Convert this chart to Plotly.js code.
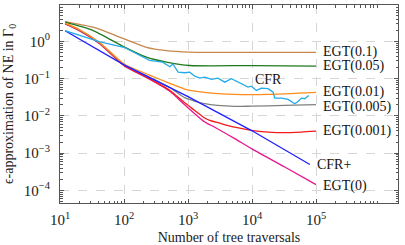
<!DOCTYPE html>
<html>
<head>
<meta charset="utf-8">
<script src="https://cdn.plot.ly/plotly-3.0.1.min.js"></script>
<style>html,body{margin:0;padding:0;background:#fff;}#chart{width:405px;height:245px;}</style>
</head>
<body>
<div id="chart"></div>
<script>
// ---- data ----
const egt01_x = [12, 33, 100, 224, 460, 1063, 3000, 100000];
const egt01_y = [3.44, 2.42, 1.18, 0.70, 0.57, 0.52, 0.51, 0.51];

const egt005_x = [12, 33, 100, 224, 460, 1063, 10000, 100000];
const egt005_y = [3.29, 1.97, 0.72, 0.38, 0.28, 0.227, 0.225, 0.218];

const cfr_x = [12, 21, 42, 100, 251, 400, 520, 580, 700, 887, 1063, 1274, 1525, 1826, 2320, 2944, 3745, 4760, 5370, 6830, 8660, 9780, 11700, 14000, 17800, 21300, 22600, 28800, 36500, 46400, 52300, 59100, 66500, 76900];
const cfr_y = [1.97, 1.45, 0.98, 0.70, 0.31, 0.28, 0.21, 0.25, 0.15, 0.145, 0.15, 0.117, 0.104, 0.110, 0.0958, 0.104, 0.081, 0.100, 0.090, 0.0734, 0.0595, 0.0633, 0.0486, 0.056, 0.054, 0.0437, 0.0302, 0.0302, 0.0279, 0.0214, 0.0246, 0.0302, 0.0291, 0.0357];

const egt001_x = [12, 20, 42, 100, 251, 520, 887, 1826, 5370, 17800, 100000];
const egt001_y = [3.1, 2.1, 0.93, 0.25, 0.125, 0.075, 0.053, 0.043, 0.038, 0.038, 0.043];

const egt0005_x = [12, 20, 42, 100, 251, 520, 887, 1826, 5370, 9780, 32400, 100000];
const egt0005_y = [3.05, 2.05, 0.90, 0.24, 0.11, 0.058, 0.031, 0.0214, 0.0181, 0.0184, 0.0192, 0.0201];

const egt0001_x = [12, 20, 42, 100, 251, 520, 887, 1274, 1826, 2185, 2944, 5370, 9780, 17800, 32400, 59100, 100000];
const egt0001_y = [3.0, 2.0, 0.88, 0.23, 0.10, 0.0486, 0.0227, 0.0141, 0.0088, 0.0076, 0.0066, 0.0050, 0.0041, 0.0037, 0.00356, 0.0037, 0.0039];

const egt0_x = [12, 20, 42, 100, 251, 520, 887, 1826, 2615, 5370, 9780, 32400, 100000];
const egt0_y = [2.95, 1.95, 0.86, 0.225, 0.097, 0.046, 0.020, 0.0069, 0.0050, 0.00246, 0.00133, 0.000427, 0.000144];

const cfrp_x = [12, 100, 1000, 10000, 80000];
const cfrp_y = [1.95, 0.235, 0.033, 0.0040, 0.0005];

const xTickVals = [10, 100, 1000, 10000, 100000];
const xTickText = ['10<sup>1</sup>', '10<sup>2</sup>', '10<sup>3</sup>', '10<sup>4</sup>', '10<sup>5</sup>'];
const yTickVals = [1e-4, 1e-3, 1e-2, 1e-1, 1];
const yTickText = ['10<sup>−4</sup>', '10<sup>−3</sup>', '10<sup>−2</sup>', '10<sup>−1</sup>', '10<sup>0</sup>'];

// ---- build ----
function minorVals(lo, hi) {
  const v = [];
  for (let e = lo; e <= hi; e++) for (let k = 2; k <= 9; k++) v.push(k * Math.pow(10, e));
  return v;
}
const FONT = 'Liberation Serif, Times New Roman, serif';

const series = [
  {name: 'EGT(0.1)', x: egt01_x, y: egt01_y, color: '#c8874a', shape: 'spline'},
  {name: 'EGT(0.05)', x: egt005_x, y: egt005_y, color: '#1f7a1f', shape: 'spline'},
  {name: 'EGT(0)', x: egt0_x, y: egt0_y, color: '#e8168f', shape: 'spline'},
  {name: 'EGT(0.001)', x: egt0001_x, y: egt0001_y, color: '#f41a1a', shape: 'spline'},
  {name: 'EGT(0.005)', x: egt0005_x, y: egt0005_y, color: '#808080', shape: 'spline'},
  {name: 'EGT(0.01)', x: egt001_x, y: egt001_y, color: '#ff8c1a', shape: 'spline'},
  {name: 'CFR+', x: cfrp_x, y: cfrp_y, color: '#1f1fff', shape: 'linear'},
  {name: 'CFR', x: cfr_x, y: cfr_y, color: '#22aaea', shape: 'linear'}
];

const traces = series.map(s => ({
  type: 'scatter', mode: 'lines', name: s.name, x: s.x, y: s.y,
  line: {color: s.color, width: 1.3, shape: s.shape, smoothing: 0.6},
  hoverinfo: 'skip', showlegend: false
}));

function lastOf(arr) { return arr[arr.length - 1]; }
const labels = [
  {text: 'EGT(0.1)', x: 5.08, y: Math.log10(lastOf(egt01_y)), anchor: 'left'},
  {text: 'EGT(0.05)', x: 5.08, y: Math.log10(lastOf(egt005_y)), anchor: 'left'},
  {text: 'EGT(0.01)', x: 5.08, y: Math.log10(lastOf(egt001_y)) + 0.02, anchor: 'left'},
  {text: 'EGT(0.005)', x: 5.08, y: Math.log10(lastOf(egt0005_y)) - 0.05, anchor: 'left'},
  {text: 'EGT(0.001)', x: 5.08, y: Math.log10(lastOf(egt0001_y)), anchor: 'left'},
  {text: 'CFR+', x: 4.98, y: Math.log10(lastOf(cfrp_y)), anchor: 'left'},
  {text: 'EGT(0)', x: 5.08, y: Math.log10(lastOf(egt0_y)) - 0.04, anchor: 'left'},
  {text: 'CFR', x: 4.256, y: -1.027, anchor: 'center'}
];

const annotations = labels.map(l => ({
  text: l.text, x: l.x, y: l.y, xref: 'x', yref: 'y', showarrow: false,
  xanchor: l.anchor, yanchor: 'middle', font: {family: FONT, size: 14, color: '#111'}
}));

const axisCommon = {
  type: 'log', tickmode: 'array', ticks: 'inside', ticklen: 4, tickwidth: 1, tickcolor: '#555',
  showline: true, linecolor: '#555', linewidth: 1, mirror: 'ticks',
  showgrid: true, gridcolor: '#d6d6d6', griddash: 'dash', gridwidth: 1, zeroline: false,
  tickfont: {family: FONT, size: 15, color: '#222'}
};

const layout = {
  width: 405, height: 245,
  margin: {l: 60, r: 7, t: 5, b: 42, pad: 0},
  paper_bgcolor: '#fff', plot_bgcolor: '#fff',
  font: {family: FONT, size: 14, color: '#222'},
  xaxis: Object.assign({}, axisCommon, {
    range: [1, 6.28], tickvals: xTickVals, ticktext: xTickText, ticklabelstandoff: 3,
    minor: {tickmode: 'array', tickvals: minorVals(1, 6), ticks: 'inside', ticklen: 2.5, tickcolor: '#555', showgrid: false},
    title: {text: 'Number of tree traversals', font: {family: FONT, size: 14, color: '#222'}, standoff: 5},
    automargin: false
  }),
  yaxis: Object.assign({}, axisCommon, {
    range: [-4.336, 0.98], tickvals: yTickVals, ticktext: yTickText, ticklabelstandoff: 6,
    minor: {tickmode: 'array', tickvals: minorVals(-5, 0), ticks: 'inside', ticklen: 2.5, tickcolor: '#555', showgrid: false},
    title: {text: 'ϵ-approximation of NE in Γ<sub>0</sub>', font: {family: FONT, size: 14, color: '#222'}, standoff: 6},
    automargin: false
  }),
  annotations: annotations
};

Plotly.newPlot('chart', traces, layout, {staticPlot: true, displayModeBar: false});
</script>
</body>
</html>
